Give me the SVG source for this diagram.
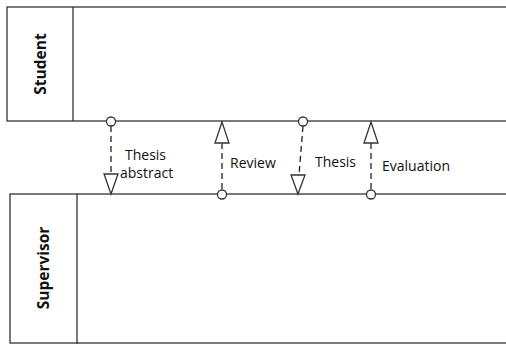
<svg xmlns="http://www.w3.org/2000/svg" width="506" height="344" viewBox="0 0 506 344">
<style>
.lane{fill:#fff;stroke:#333;stroke-width:1.3}
.lbl{font-family:"Open Sans","DejaVu Sans",sans-serif;font-size:15.5px;font-weight:bold;fill:#111;text-anchor:middle}
.txt{font-family:"Open Sans","DejaVu Sans",sans-serif;font-size:14px;fill:#111}
.dash{stroke:#222;stroke-width:1.3;stroke-dasharray:6,4;fill:none}
.end{fill:#fff;stroke:#333;stroke-width:1.3}
</style>
<rect width="506" height="344" fill="#fff"/>
<g id="student">
<rect class="lane" x="7" y="7" width="510" height="114"/>
<line x1="73" y1="7" x2="73" y2="121" stroke="#333" stroke-width="1.3"/>
<text class="lbl" transform="translate(46,64) rotate(-90)">Student</text>
</g>
<g id="supervisor">
<rect class="lane" x="10" y="194" width="510" height="149" stroke="#555"/>
<line x1="77" y1="194" x2="77" y2="344" stroke="#333" stroke-width="1.3"/>
<text class="lbl" transform="translate(49,268) rotate(-90)">Supervisor</text>
</g>
<g id="connectors">
<line class="dash" x1="111" y1="126" x2="111" y2="174"/>
<circle class="end" cx="111" cy="121.5" r="4.5"/>
<polygon class="end" points="104,174 118,174 111,194"/>
<text class="txt" x="125" y="160">Thesis</text>
<text class="txt" x="120" y="178">abstract</text>

<line class="dash" x1="222" y1="143" x2="222" y2="190"/>
<polygon class="end" points="222,122 215,143 229,143"/>
<circle class="end" cx="222" cy="194.5" r="4.5"/>
<text class="txt" x="230" y="168">Review</text>

<line class="dash" x1="303" y1="126" x2="299" y2="175"/>
<circle class="end" cx="303" cy="121.5" r="4.5"/>
<polygon class="end" points="291,175 305,175 298,194"/>
<text class="txt" x="315" y="167">Thesis</text>

<line class="dash" x1="371" y1="143" x2="371" y2="190"/>
<polygon class="end" points="371,122 364,143 378,143"/>
<circle class="end" cx="371" cy="194.5" r="4.5"/>
<text class="txt" x="382" y="171">Evaluation</text>
</g>
</svg>
